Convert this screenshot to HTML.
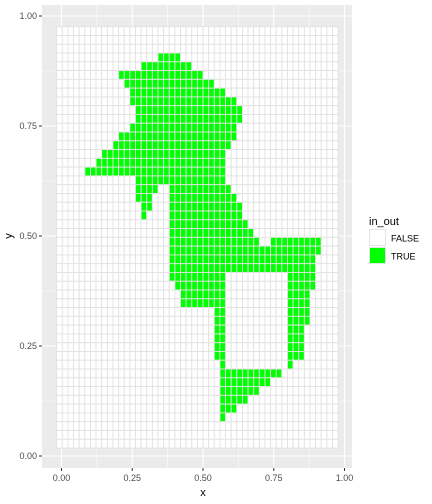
<!DOCTYPE html>
<html><head><meta charset="utf-8"><style>
body{margin:0;background:#fff;}
svg{display:block;font-family:"Liberation Sans",sans-serif;}
</style></head><body>
<svg id="chart" width="432" height="504" viewBox="0 0 432 504">
<rect x="42" y="5" width="310" height="463" fill="#ebebeb"/>
<g id="grid"></g>
<g id="tiles"></g>
<g id="axes"></g>
<text x="203" y="496" font-size="11" fill="#000" text-anchor="middle">x</text>
<text x="12" y="236" font-size="11" fill="#000" text-anchor="middle" transform="rotate(-90 12 236)">y</text>
<g>
<text x="369" y="225" font-size="11" fill="#000">in_out</text>
<rect x="369.5" y="229.5" width="16" height="16" fill="#fff" stroke="#e4e4e4"/>
<rect x="369.5" y="247.5" width="16" height="16" fill="#00ff00" stroke="#e4e4e4"/>
<text x="391" y="241.5" font-size="9" fill="#000">FALSE</text>
<text x="391" y="259.5" font-size="9" fill="#000">TRUE</text>
</g>
</svg>
<script>
const xTicks = [0, 0.25, 0.5, 0.75, 1];
const yTicks = [0, 0.25, 0.5, 0.75, 1];
const tickLabels = ["0.00", "0.25", "0.50", "0.75", "1.00"];
const nCols = 50;
const nRows = 48;
const gridX0 = -0.017, cellW = 0.01989;
const gridYTop = 0.9757, cellH = 0.01995;
// TRUE runs: [row from top, first col, last col]
const trueRuns = [
[3,18,21],[4,15,23],[5,11,25],[6,12,27],[7,13,29],[8,13,31],[9,14,32],[10,14,32],
[11,13,31],[12,11,31],[13,10,30],[14,8,29],[15,7,29],[16,5,29],[17,14,29],
[18,14,17],[18,20,30],[19,14,16],[19,20,31],[20,15,16],[20,20,32],[21,15,15],[21,20,32],
[22,20,33],[23,20,34],[24,20,35],[24,38,46],[25,20,46],[26,20,45],[27,20,45],
[28,20,29],[28,41,45],[29,21,29],[29,41,45],[30,22,29],[30,41,44],[31,22,29],[31,41,44],
[32,28,29],[32,41,44],[33,28,29],[33,41,44],[34,28,29],[34,41,43],[35,28,29],[35,41,43],
[36,28,29],[36,41,43],[37,28,29],[37,41,43],[38,29,29],[38,41,41],
[39,29,39],[40,29,37],[41,29,35],[42,29,33],[43,29,31],[44,29,29]
];
const sx = v => 61.5 + 283 * v;
const sy = v => 456 - 440 * v;
const NS = "http://www.w3.org/2000/svg";
const grid = document.getElementById("grid");
const tiles = document.getElementById("tiles");
const axes = document.getElementById("axes");
function mk(tag, attrs, parent){const e=document.createElementNS(NS,tag);for(const k in attrs)e.setAttribute(k,attrs[k]);parent.appendChild(e);return e;}
// grid lines
for (let i=0;i<xTicks.length;i++){
  const X=sx(xTicks[i]);
  const l=mk("line",{x1:X,x2:X,y1:5,y2:468,stroke:"#fff","stroke-width":1.1},grid);
  
  
  if(i<xTicks.length-1){const m=sx((xTicks[i]+xTicks[i+1])/2);
    const ml=mk("line",{x1:m,x2:m,y1:5,y2:468,stroke:"#fff","stroke-width":0.5},grid);
    
    }
  const Y=sy(yTicks[i]);
  const h=mk("line",{x1:42,x2:352,y1:Y,y2:Y,stroke:"#fff","stroke-width":1.1},grid);
  
  
  if(i<yTicks.length-1){const m=sy((yTicks[i]+yTicks[i+1])/2);
    const mh=mk("line",{x1:42,x2:352,y1:m,y2:m,stroke:"#fff","stroke-width":0.5},grid);
    
    }
}
// tiles
const isTrue = {};
trueRuns.forEach(r=>{for(let c=r[1];c<=r[2];c++) isTrue[r[0]+"_"+c]=true;});
for(let r=0;r<nRows;r++){
  for(let c=0;c<nCols;c++){
    const xl=sx(gridX0+c*cellW), xr=sx(gridX0+(c+1)*cellW);
    const yt=sy(gridYTop-r*cellH), yb=sy(gridYTop-(r+1)*cellH);
    const t=mk("rect",{x:xl,y:yt,width:xr-xl,height:yb-yt,fill:isTrue[r+"_"+c]?"#00ff00":"#ffffff",stroke:"#e2e2e2","stroke-width":0.9},tiles);
    
    
  }
}
// axes ticks & labels
for(let i=0;i<xTicks.length;i++){
  const X=sx(xTicks[i]);
  const tk=mk("line",{x1:X,x2:X,y1:468,y2:471,stroke:"#333","stroke-width":1},axes);
  
  
  const tx=mk("text",{x:X,y:481,"font-size":9,fill:"#4d4d4d","text-anchor":"middle"},axes);
  tx.textContent=tickLabels[i];
  
  
  const Y=sy(yTicks[i]);
  const ty=mk("line",{x1:39,x2:42,y1:Y,y2:Y,stroke:"#333","stroke-width":1},axes);
  
  
  const yl=mk("text",{x:37,y:Y+3,"font-size":9,fill:"#4d4d4d","text-anchor":"end"},axes);
  yl.textContent=tickLabels[i];
  
  
}
</script>
</body></html>
